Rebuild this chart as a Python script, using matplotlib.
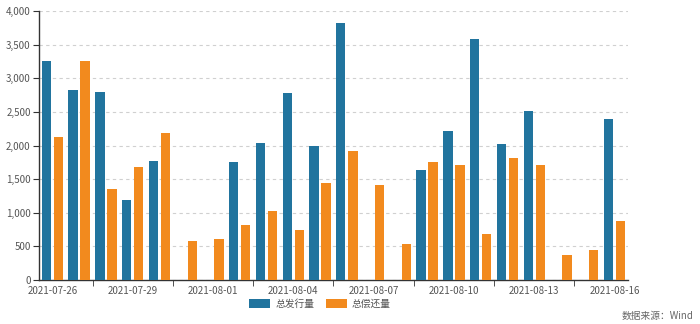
import numpy as np
import matplotlib
matplotlib.use("Agg")
import matplotlib.pyplot as plt
from matplotlib.ticker import FuncFormatter

plt.rcParams['font.family'] = ['Noto Sans CJK SC', 'DejaVu Sans']

# 日期（2021-07-26 ~ 2021-08-16）
dates = ["2021-07-26", "2021-07-27", "2021-07-28", "2021-07-29", "2021-07-30",
         "2021-07-31", "2021-08-01", "2021-08-02", "2021-08-03", "2021-08-04",
         "2021-08-05", "2021-08-06", "2021-08-07", "2021-08-08", "2021-08-09",
         "2021-08-10", "2021-08-11", "2021-08-12", "2021-08-13", "2021-08-14",
         "2021-08-15", "2021-08-16"]

# 总发行量
issue = [3262, 2825, 2791, 1185, 1765, 0, 0, 1760, 2042, 2786, 1988,
         3822, 0, 0, 1636, 2216, 3589, 2017, 2518, 0, 0, 2394]
# 总偿还量
repay = [2127, 3262, 1348, 1675, 2181, 580, 615, 823, 1031, 748, 1438,
         1923, 1413, 540, 1760, 1705, 689, 1814, 1705, 367, 451, 877]

blue = "#21749e"
orange = "#f28a1e"
text_c = "#555555"
axis_c = "#333333"

fig = plt.figure(figsize=(7, 3.24), dpi=100)
ax = fig.add_axes([0.0557, 0.1358, 0.8413, 0.8302])

x = np.arange(len(dates))
w = 0.35
ax.bar(x - 0.225, issue, width=w, color=blue, label="总发行量", zorder=3)
ax.bar(x + 0.225, repay, width=w, color=orange, label="总偿还量", zorder=3)

ax.set_xlim(-0.5, len(dates) - 0.5)
ax.set_ylim(0, 4000)
ax.set_yticks(np.arange(0, 4001, 500))
ax.yaxis.set_major_formatter(FuncFormatter(lambda v, p: f"{int(v):,}"))
ax.grid(axis="y", linestyle=(0, (3, 3)), color="#d0d0d0", linewidth=0.8, zorder=0)

# x轴：每3天一个标签，刻度线在类别之间
ax.set_xticks(x[::3])
ax.set_xticklabels(dates[::3])
ax.set_xticks(np.arange(1.5, len(dates), 3), minor=True)
ax.tick_params(axis="x", which="major", length=0, pad=4, labelsize=7, labelcolor=text_c)
ax.tick_params(axis="x", which="minor", length=4, color=axis_c, direction="out")
ax.tick_params(axis="y", length=4, color=axis_c, labelsize=7, labelcolor=text_c, pad=2)

for s in ["top", "right"]:
    ax.spines[s].set_visible(False)
for s in ["left", "bottom"]:
    ax.spines[s].set_color(axis_c)
    ax.spines[s].set_linewidth(1)

fig.legend(loc="center", bbox_to_anchor=(0.457, 0.062), ncol=2, frameon=False,
           fontsize=7, labelcolor=text_c, handlelength=2.2, handleheight=1.1,
           columnspacing=1.2, handletextpad=0.5)

fig.text(0.99, 0.025, "数据来源：Wind", ha="right", va="center", fontsize=7, color="#666666")

fig.savefig("out.png", dpi=100)
